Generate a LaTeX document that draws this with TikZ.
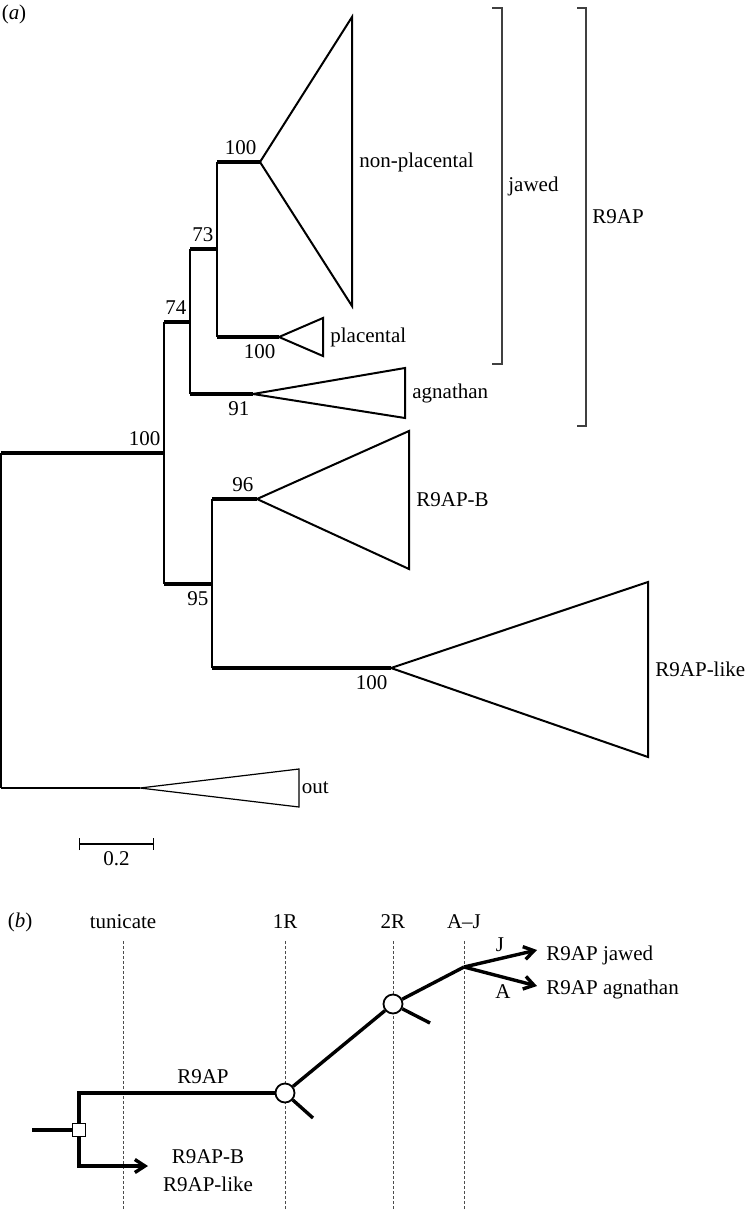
\documentclass[tikz,border=0pt]{standalone}
\usepackage{fontspec}
\setmainfont{Liberation Serif}
\usetikzlibrary{arrows.meta}
\tikzset{
    diagramtext/.style = {
        font=\fontsize{10.5}{14}\selectfont
    },
    branchline/.style = {
        line width=1.6pt
    },
    stemline/.style = {
        line width=0.6pt
    },
    cladeshape/.style = {
        line width=1pt,
        line join=miter
    },
    outshape/.style = {
        line width=0.6pt
    },
    bootlabel/.style = {
        diagramtext,
        inner xsep=1pt,
        inner ysep=3pt
    },
    taxonlabel/.style = {
        diagramtext,
        right,
        inner sep=3.5pt
    },
    bracketline/.style = {
        line width=0.6pt,
        draw=black!75
    },
    timeline/.style = {
        line width=0.5pt,
        draw=black!70,
        dash pattern=on 1.5pt off 1pt
    },
    lineage/.style = {
        line width=1.7pt
    },
    dupnode/.style = {
        circle,
        draw,
        fill=white,
        line width=0.9pt,
        minimum size=9.5pt,
        inner sep=0pt
    },
    specnode/.style = {
        rectangle,
        draw,
        fill=white,
        line width=0.9pt,
        minimum size=6.5pt,
        inner sep=0pt
    },
    barb/.style = {
        -{Straight Barb[length=5pt, width=6.5pt]}
    },
    scalebar/.style = {
        line width=0.6pt,
        {Bar[width=6pt]}-{Bar[width=6pt]}
    }
}

\begin{document}
\begin{tikzpicture}[x=0.5pt, y=-0.5pt]
            \useasboundingbox (0,0) rectangle (748,1211);

            % (a)
            \node [diagramtext] (panela) at (14,14) {(\textit{a})};

            \coordinate (root) at (1,453);
            \coordinate (rootout) at (1,788);
            \coordinate (nR) at (164,453);
            \coordinate (n74) at (164,322);
            \coordinate (n95) at (164,584);
            \coordinate (n74end) at (190,322);
            \coordinate (n73) at (190,249);
            \coordinate (n91) at (190,394);
            \coordinate (n73end) at (217,249);
            \coordinate (nNP) at (217,162);
            \coordinate (nPL) at (217,337);
            \coordinate (n95end) at (212,584);
            \coordinate (nB) at (212,499);
            \coordinate (nL) at (212,668);
            \coordinate (apexNP) at (260,162);
            \coordinate (apexPL) at (279,337);
            \coordinate (apexAG) at (253,394);
            \coordinate (apexB) at (257,499);
            \coordinate (apexL) at (391,668);
            \coordinate (apexOut) at (140,788);

            \draw [stemline] (root) -- (rootout);
            \draw [stemline] (n74) -- (n95);
            \draw [stemline] (n73) -- (n91);
            \draw [stemline] (nNP) -- (nPL);
            \draw [stemline] (nB) -- (nL);

            \draw [branchline] (root) -- (nR) node [bootlabel, above left] (bsR) {100};
            \draw [branchline] (n74) -- (n74end) node [bootlabel, above left] (bs74) {74};
            \draw [branchline] (n73) -- (n73end) node [bootlabel, above left] (bs73) {73};
            \draw [branchline] (nNP) -- (apexNP) node [bootlabel, above left] (bsNP) {100};
            \draw [branchline] (nPL) -- (apexPL) node [bootlabel, below left] (bsPL) {100};
            \draw [branchline] (n91) -- (apexAG) node [bootlabel, below left] (bs91) {91};
            \draw [branchline] (n95) -- (n95end) node [bootlabel, below left] (bs95) {95};
            \draw [branchline] (nB) -- (apexB) node [bootlabel, above left] (bsB) {96};
            \draw [branchline] (nL) -- (apexL) node [bootlabel, below left] (bsL) {100};
            \draw [cladeshape] (rootout) -- (apexOut);

            \draw [cladeshape] (apexNP) -- (352,17) -- (352,306) -- cycle;
            \draw [cladeshape] (apexPL) -- (323,318) -- (323,356) -- cycle;
            \draw [cladeshape] (apexAG) -- (405,368) -- (405,418) -- cycle;
            \draw [cladeshape] (apexB) -- (409,431) -- (409,569) -- cycle;
            \draw [cladeshape] (apexL) -- (648,582) -- (648,757) -- cycle;
            \draw [outshape] (apexOut) -- (299,769) -- (299,807) -- cycle;

            \node [taxonlabel] (lblNP) at (352,162) {non-placental};
            \node [taxonlabel] (lblPL) at (323,337) {placental};
            \node [taxonlabel] (lblAG) at (405,393) {agnathan};
            \node [taxonlabel] (lblB) at (409,500) {R9AP-B};
            \node [taxonlabel] (lblL) at (648,669) {R9AP-like};
            \node [taxonlabel, inner sep=1.2pt] (lblOut) at (299,788) {out};

            \draw [bracketline] (492,8) -- (502,8) -- (502,364) -- (492,364);
            \node [diagramtext, right, inner sep=3pt] (jawedlbl) at (502,186) {jawed};
            \draw [bracketline] (577,8) -- (586,8) -- (586,426) -- (577,426);
            \node [diagramtext, right, inner sep=3pt] (rnineaplbl) at (586,217) {R9AP};

            \draw [scalebar] (79,844) -- (154,844) node [diagramtext, midway, below] (scalelbl) {0.2};

            % (b)
            \node [diagramtext] (panelb) at (20,922) {(\textit{b})};
            \node [diagramtext] (tunicate) at (123,922) {tunicate};
            \node [diagramtext] (oneR) at (285,922) {1R};
            \node [diagramtext] (twoR) at (393,922) {2R};
            \node [diagramtext] (ajsplit) at (464,922) {A–J};
            \draw [timeline] (123,941) -- (123,1211);
            \draw [timeline] (285,941) -- (285,1211);
            \draw [timeline] (393,941) -- (393,1211);
            \draw [timeline] (464,941) -- (464,1211);

            \node [specnode] (spec) at (79,1130) {};
            \node [dupnode] (dupone) at (285,1093) {};
            \node [dupnode] (duptwo) at (393,1004) {};
            \coordinate (stub) at (32,1130);
            \coordinate (upturn) at (79,1093);
            \coordinate (downturn) at (79,1166);
            \coordinate (btip) at (148,1166);
            \coordinate (tickone) at (313,1118);
            \coordinate (ticktwo) at (430,1023);
            \coordinate (split) at (464,967);
            \coordinate (jtip) at (537,950);
            \coordinate (atip) at (537,986);

            \draw [lineage] (stub) -- (spec);
            \draw [lineage] (spec) -- (upturn) -- (dupone);
            \draw [lineage, barb] (spec) -- (downturn) -- (btip);
            \draw [lineage] (dupone) -- (duptwo);
            \draw [lineage] (dupone) -- (tickone);
            \draw [lineage] (duptwo) -- (ticktwo);
            \draw [lineage] (duptwo) -- (split);
            \draw [lineage, barb] (split) -- (jtip);
            \draw [lineage, barb] (split) -- (atip);

            \node [diagramtext] (rnineap) at (203,1077) {R9AP};
            \node [diagramtext, align=center] (paralogs) at (208,1171) {R9AP-B\\R9AP-like};
            \node [diagramtext] (lblJ) at (500,945) {J};
            \node [diagramtext] (lblA) at (503,992) {A};
            \node [diagramtext, anchor=base west, inner sep=0pt] (jawedtxt) at (546,960) {R9AP jawed};
            \node [diagramtext, anchor=base west, inner sep=0pt] (agntxt) at (546,994) {R9AP agnathan};
        \end{tikzpicture}
\end{document}
